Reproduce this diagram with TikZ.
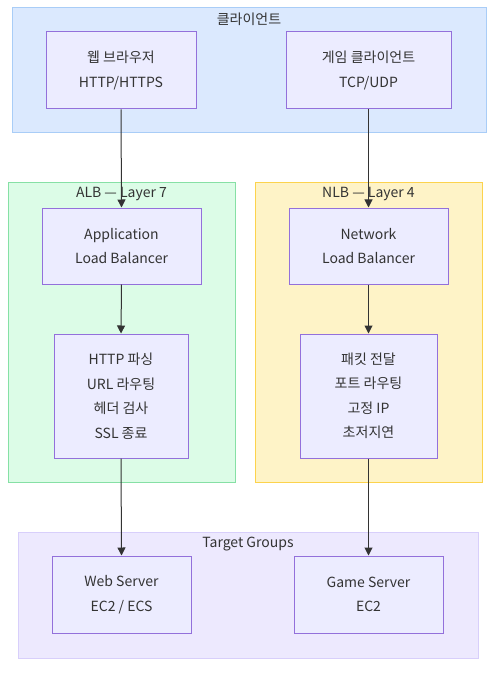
\documentclass[tikz,border=0pt]{standalone}
\usepackage{fontspec}
\setmainfont{Noto Sans CJK KR}
\usetikzlibrary{arrows.meta}
\definecolor{nodefill}{HTML}{ECECFF}
\definecolor{nodedraw}{HTML}{9370DB}
\definecolor{cliFill}{HTML}{DBE9FE}
\definecolor{cliDraw}{HTML}{A9CDF7}
\definecolor{albFill}{HTML}{DCFCE7}
\definecolor{albDraw}{HTML}{86E0A5}
\definecolor{nlbFill}{HTML}{FEF3C7}
\definecolor{nlbDraw}{HTML}{FCD34D}
\definecolor{tgFill}{HTML}{EDE9FE}
\definecolor{tgDraw}{HTML}{D8CFFB}
\definecolor{txt}{HTML}{333333}
\tikzset{
  box/.style={draw=nodedraw, fill=nodefill, line width=1pt, align=center,
    inner sep=0pt, text=txt, font=\fontsize{14}{24.5}\selectfont},
  cluster/.style={line width=1pt},
  ctitle/.style={text=txt, font=\fontsize{14}{16}\selectfont, inner sep=0pt},
  conn/.style={draw=txt, line width=1pt, -{Triangle[length=8pt,width=8pt]}},
}
\begin{document}
\begin{tikzpicture}[x=1pt,y=-1pt]
\useasboundingbox (0,0) rectangle (502,676);
\fill[white] (0,0) rectangle (502,676);
% clusters
\draw[cluster, fill=cliFill, draw=cliDraw] (12,8) rectangle (486,133);
\node[ctitle] (tcli) at (249,19) {클라이언트};
\draw[cluster, fill=albFill, draw=albDraw] (8,183) rectangle (235,482);
\node[ctitle] (talb) at (121.5,194) {ALB — Layer 7};
\draw[cluster, fill=nlbFill, draw=nlbDraw] (255,183) rectangle (482,482);
\node[ctitle] (tnlb) at (368.5,194) {NLB — Layer 4};
\draw[cluster, fill=tgFill, draw=tgDraw] (18,532) rectangle (478,658);
\node[ctitle] (ttg) at (248,544) {Target Groups};
% nodes
\node[box, minimum width=150, minimum height=77] (web) at (121,70.5) {웹 브라우저\\HTTP/HTTPS};
\node[box, minimum width=165, minimum height=77] (game) at (368.5,70.5) {게임 클라이언트\\TCP/UDP};
\node[box, minimum width=159, minimum height=76] (alb) at (121.5,246) {Application\\Load Balancer};
\node[box, minimum width=134, minimum height=124] (http) at (121,396) {HTTP 파싱\\URL 라우팅\\헤더 검사\\SSL 종료};
\node[box, minimum width=159, minimum height=76] (nlb) at (368.5,246) {Network\\Load Balancer};
\node[box, minimum width=137, minimum height=124] (pkt) at (368.5,396) {패킷 전달\\포트 라우팅\\고정 IP\\초저지연};
\node[box, minimum width=139, minimum height=77] (websrv) at (121.5,594.5) {Web Server\\EC2 / ECS};
\node[box, minimum width=149, minimum height=77] (gamesrv) at (368.5,594.5) {Game Server\\EC2};
% connectors
\draw[conn] (web.south) -- (alb.north);
\draw[conn] (game.south) -- (nlb.north);
\draw[conn] (alb.south) -- (http.north);
\draw[conn] (nlb.south) -- (pkt.north);
\draw[conn] (http.south) -- (websrv.north);
\draw[conn] (pkt.south) -- (gamesrv.north);
\end{tikzpicture}
\end{document}
